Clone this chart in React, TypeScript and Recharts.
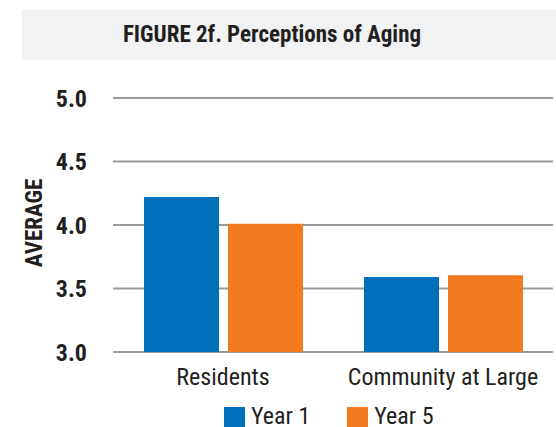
import React from 'react';
import { BarChart, Bar, XAxis, YAxis, CartesianGrid, Legend } from 'recharts';

const categories = ['Residents', 'Community at Large'];
const year1 = [4.22, 3.59];
const year5 = [4.01, 3.605];
const seriesNames = ['Year 1', 'Year 5'];
const yTicks = [3.0, 3.5, 4.0, 4.5, 5.0];
const title = 'FIGURE 2f. Perceptions of Aging';
const yLabel = 'AVERAGE';

const data = categories.map((c, i) => ({ name: c, y1: year1[i], y5: year5[i] }));

const FONT = '"Roboto Condensed", "Open Sans Condensed", sans-serif';
const TEXT = '#231f20';
const BLUE = '#0070ba';
const ORANGE = '#f27b21';

const LegendContent = (props: any) => {
  const { payload } = props;
  return (
    <div style={{ display: 'flex', alignItems: 'flex-start', fontFamily: FONT, fontSize: 24, color: TEXT }}>
      {(payload || []).map((p: any, i: number) => (
        <div key={i} style={{ display: 'flex', alignItems: 'flex-start', marginRight: i === 0 ? 37 : 0 }}>
          <div style={{ width: 21, height: 21, background: p.color, marginRight: 6, marginTop: 3 }} />
          <span style={{ lineHeight: '24px' }}>{p.value}</span>
        </div>
      ))}
    </div>
  );
};

const YLabel = (props: any) => {
  const vb = props.viewBox || { x: 0, y: 0, height: 0 };
  const cx = 34;
  const cy = vb.y + vb.height / 2 - 2;
  return (
    <text
      x={cx}
      y={cy}
      transform={`rotate(-90 ${cx} ${cy})`}
      textAnchor="middle"
      dominantBaseline="central"
      fill={TEXT}
      fontFamily={FONT}
      fontWeight="bold"
      fontSize={23}
    >
      {yLabel}
    </text>
  );
};

export default function App() {
  return (
    <div style={{ position: 'absolute', left: 0, top: 0, width: 556, height: 427, background: '#fff', overflow: 'hidden' }}>
      <div
        style={{
          position: 'absolute',
          left: 22,
          top: 10,
          width: 534,
          height: 50,
          background: '#f1f2f3',
          boxSizing: 'border-box',
          paddingRight: 34,
          textAlign: 'center',
          fontFamily: FONT,
          fontWeight: 'bold',
          fontSize: 23,
          lineHeight: '50px',
          color: TEXT,
        }}
      >
        {title}
      </div>
      <BarChart
        width={556}
        height={427}
        data={data}
        margin={{ top: 98, right: 3, bottom: 45, left: 0 }}
        barSize={75}
        barGap={9}
      >
        <CartesianGrid vertical={false} stroke="#9a9a9a" strokeWidth={2} />
        <XAxis
          dataKey="name"
          height={30}
          axisLine={false}
          tickLine={false}
          tickSize={0}
          tickMargin={16}
          tick={{ fill: TEXT, fontFamily: FONT, fontSize: 24 }}
          interval={0}
        />
        <YAxis
          width={113}
          domain={[3, 5]}
          ticks={yTicks}
          axisLine={false}
          tickLine={false}
          tickSize={0}
          tickMargin={26}
          tickFormatter={(v: number) => v.toFixed(1)}
          tick={{ fill: TEXT, fontFamily: FONT, fontSize: 24, fontWeight: 'bold' }}
          label={<YLabel />}
        />
        <Legend
          verticalAlign="middle"
          content={<LegendContent />}
          wrapperStyle={{ position: 'absolute', left: 224, top: 404, width: 'auto' }}
        />
        <Bar dataKey="y1" name={seriesNames[0]} fill={BLUE} isAnimationActive={false} />
        <Bar dataKey="y5" name={seriesNames[1]} fill={ORANGE} isAnimationActive={false} />
      </BarChart>
    </div>
  );
}
